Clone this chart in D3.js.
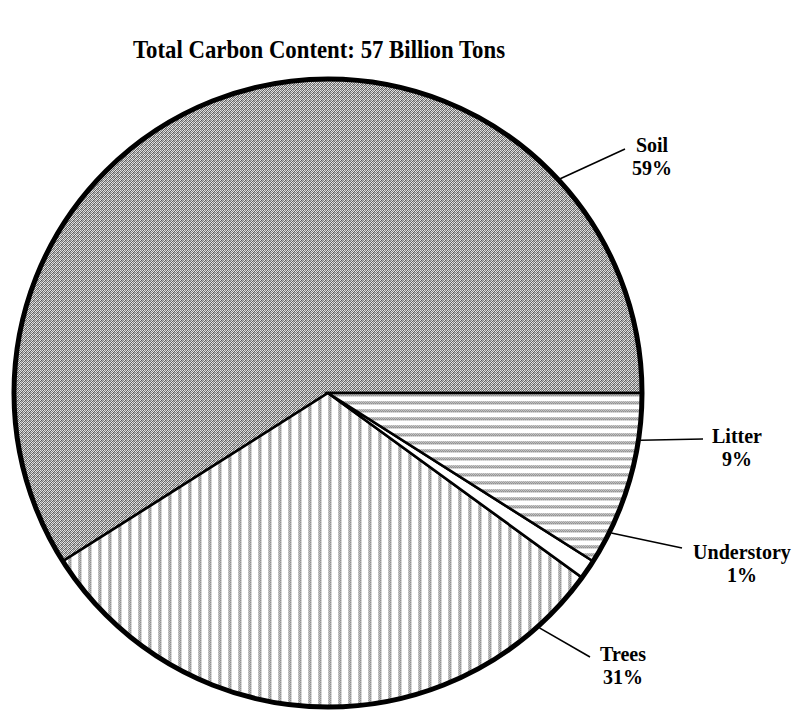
<!DOCTYPE html>
<html>
<head>
<meta charset="utf-8">
<script src="https://cdn.jsdelivr.net/npm/d3@7"></script>
<style>
  html, body { margin: 0; padding: 0; background: #fff; }
  svg { display: block; }
</style>
</head>
<body>
<svg id="chart" width="799" height="712"></svg>
<script>
// ---- data ----
const title = "Total Carbon Content: 57 Billion Tons";
const categories = ["Soil", "Trees", "Understory", "Litter"];
const values = [59, 31, 1, 9];            // percent of total carbon
const labelText = values.map(v => v + "%");

// ---- layout (positions / styles only) ----
const W = 799, H = 712;
const cx = 328, cy = 393, R = 314;
const fills = ["url(#pSoil)", "url(#pTrees)", "#ffffff", "url(#pLitter)"];
// leader lines: angle of rim point (degrees, math convention), end point, label anchor
const leaders = [
  { rimDeg: 42.7,  end: [625, 149], lx: 652, ly: 153 },
  { rimDeg: -48.0, end: [590, 657], lx: 623, ly: 662 },
  { rimDeg: -26.3, end: [682, 548], lx: 742, ly: 560 },
  { rimDeg: -8.6,  end: [703, 439], lx: 737, ly: 444 }
];

const svg = d3.select("#chart");
const defs = svg.append("defs");

function pix(p, cells) {
  cells.forEach(([x, y, c]) => p.append("rect").attr("x", x).attr("y", y)
    .attr("width", 1).attr("height", 1).attr("fill", c));
}

// Soil: dense stipple
const pS = defs.append("pattern").attr("id", "pSoil")
  .attr("patternUnits", "userSpaceOnUse").attr("width", 4).attr("height", 4);
pS.append("rect").attr("width", 4).attr("height", 4).attr("fill", "#e2e2e2");
pix(pS, [[0,0,"#666"],[2,0,"#777"],[1,1,"#888"],[3,1,"#5c5c5c"],
 [0,2,"#7c7c7c"],[2,2,"#646464"],[1,3,"#585858"],[3,3,"#8c8c8c"],[1,0,"#bbb"],[2,3,"#b0b0b0"]]);

// Trees: vertical dotted stripes
const pT = defs.append("pattern").attr("id", "pTrees")
  .attr("patternUnits", "userSpaceOnUse").attr("width", 10).attr("height", 2);
pT.append("rect").attr("width", 10).attr("height", 2).attr("fill", "#ffffff");
pix(pT, [[0,0,"#cfcfcf"],[1,0,"#9a9a9a"],[2,0,"#b4b4b4"],[3,0,"#dcdcdc"],
         [0,1,"#b0b0b0"],[1,1,"#c4c4c4"],[2,1,"#929292"],[3,1,"#d0d0d0"]]);

// Litter: horizontal dotted stripes
const pL = defs.append("pattern").attr("id", "pLitter")
  .attr("patternUnits", "userSpaceOnUse").attr("width", 2).attr("height", 8);
pL.append("rect").attr("width", 2).attr("height", 8).attr("fill", "#ffffff");
pix(pL, [[0,0,"#cfcfcf"],[1,0,"#b0b0b0"],[0,1,"#9a9a9a"],[1,1,"#c4c4c4"],
         [0,2,"#b4b4b4"],[1,2,"#929292"],[0,3,"#dcdcdc"],[1,3,"#d0d0d0"]]);

// title
svg.append("text")
  .attr("x", 319).attr("y", 58)
  .attr("text-anchor", "middle")
  .attr("font-family", "'Liberation Serif', 'Times New Roman', serif")
  .attr("font-weight", "bold")
  .attr("font-size", 26)
  .attr("textLength", 372)
  .attr("lengthAdjust", "spacingAndGlyphs")
  .text(title);

// pie: starts at 3 o'clock, runs counter-clockwise
const pie = d3.pie().sort(null).value(d => d)
  .startAngle(Math.PI / 2).endAngle(Math.PI / 2 - 2 * Math.PI);
const arcs = pie(values);
const arc = d3.arc().innerRadius(0).outerRadius(R);

const g = svg.append("g").attr("transform", `translate(${cx},${cy})`);
g.selectAll("path.slice").data(arcs).enter().append("path")
  .attr("class", "slice")
  .attr("d", arc)
  .attr("fill", (d, i) => fills[i])
  .attr("stroke", "#000")
  .attr("stroke-width", 2.6)
  .attr("stroke-linejoin", "miter");

g.append("circle").attr("r", R)
  .attr("fill", "none").attr("stroke", "#000").attr("stroke-width", 5);

// leader lines + labels
const lab = svg.append("g")
  .attr("font-family", "'Liberation Serif', 'Times New Roman', serif")
  .attr("font-weight", "bold")
  .attr("font-size", 20)
  .attr("fill", "#000");

categories.forEach((c, i) => {
  const L = leaders[i];
  const a = L.rimDeg * Math.PI / 180;
  const x0 = cx + (R + 2) * Math.cos(a), y0 = cy - (R + 2) * Math.sin(a);
  svg.append("line")
    .attr("x1", x0).attr("y1", y0)
    .attr("x2", L.end[0]).attr("y2", L.end[1])
    .attr("stroke", "#000").attr("stroke-width", 1.6);
  lab.append("text").attr("text-anchor", "middle")
    .attr("x", L.lx).attr("y", L.ly - 1).text(c);
  lab.append("text").attr("text-anchor", "middle")
    .attr("x", L.lx).attr("y", L.ly + 21.5).text(labelText[i]);
});
</script>
</body>
</html>
